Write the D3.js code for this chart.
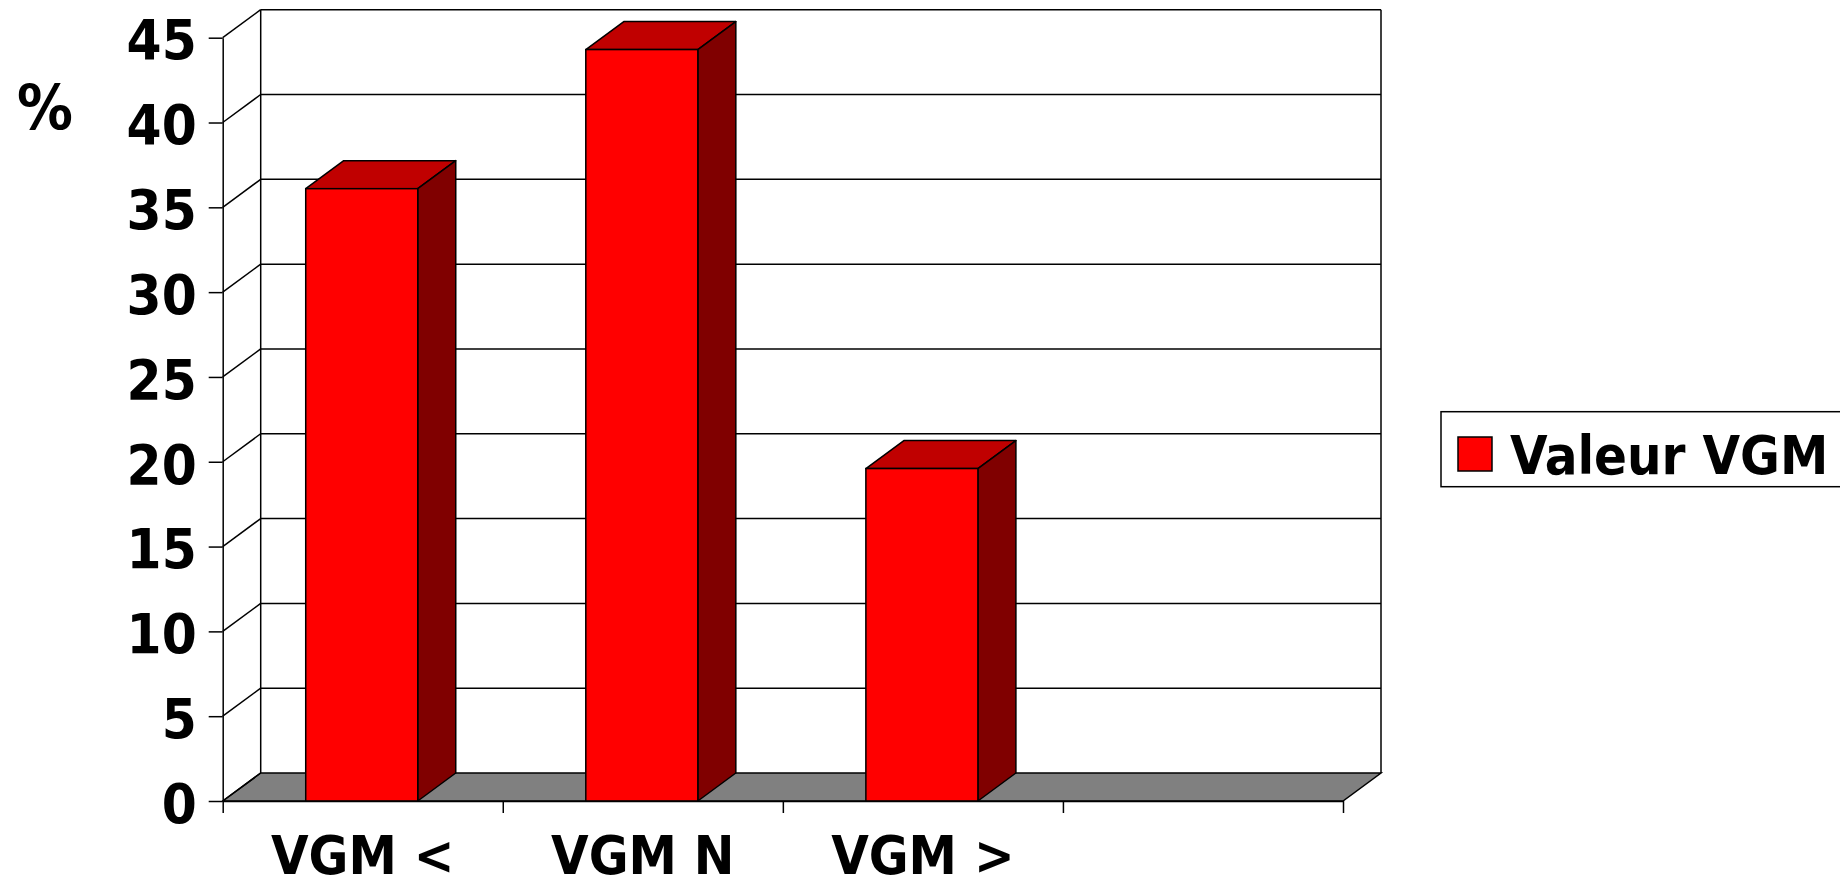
<!DOCTYPE html>
<html>
<head>
    <title>Valeur VGM</title>
    <script src="https://cdn.jsdelivr.net/npm/d3@7"></script>
    <style>
        body { margin: 0; background: #fff; }
        text { font-family: "DejaVu Sans Condensed", "DejaVu Sans", sans-serif; font-weight: bold; font-stretch: condensed; }
    </style>
</head>
<body>
<svg width="1840" height="888"></svg>

<script>
    const svg = d3.select("svg");

    // data
    const categories = ["VGM <", "VGM N", "VGM >", ""];
    const values = [36.1, 44.3, 19.6];
    const yTicks = [0, 5, 10, 15, 20, 25, 30, 35, 40, 45];
    const seriesName = "Valeur VGM";
    const unitLabel = "%";

    // depth of the 3d box
    const dx = 38, dy = -28;
    const fontSize = 54;

    const x = d3.scaleBand()
        .domain(categories)
        .range([222.7, 1343])
        .padding(0);

    const y = d3.scaleLinear()
        .domain([0, 45])
        .range([801, 37.7]);

    const x0 = x.range()[0], x1 = x.range()[1];
    const yTop = y(45), yBase = y(0);

    // floor
    svg.append("path")
        .attr("d", `M${x0},${yBase} L${x0 + dx},${yBase + dy} L${x1 + dx},${yBase + dy} L${x1},${yBase} Z`)
        .attr("fill", "#808080")
        .attr("stroke", "#000")
        .attr("stroke-width", 1.5);

    // back wall grid lines + side wall diagonals
    const grid = svg.append("g");
    grid.selectAll(".gback")
        .data(yTicks.filter(d => d > 0))
        .enter().append("line")
        .attr("x1", x0 + dx)
        .attr("x2", x1 + dx)
        .attr("y1", d => y(d) + dy)
        .attr("y2", d => y(d) + dy)
        .attr("stroke", "#000")
        .attr("stroke-width", 1.5);

    grid.selectAll(".gside")
        .data(yTicks)
        .enter().append("line")
        .attr("x1", x0)
        .attr("x2", x0 + dx)
        .attr("y1", d => y(d))
        .attr("y2", d => y(d) + dy)
        .attr("stroke", "#000")
        .attr("stroke-width", 1.5);

    // wall edges
    grid.append("line")
        .attr("x1", x0 + dx).attr("x2", x0 + dx)
        .attr("y1", yTop + dy).attr("y2", yBase + dy)
        .attr("stroke", "#000").attr("stroke-width", 1.5);
    grid.append("line")
        .attr("x1", x1 + dx).attr("x2", x1 + dx)
        .attr("y1", yTop + dy).attr("y2", yBase + dy)
        .attr("stroke", "#000").attr("stroke-width", 1.5);

    // bars
    const barW = x.bandwidth() * 0.4;
    const bars = svg.selectAll(".bar")
        .data(values)
        .enter().append("g")
        .attr("class", "bar");

    const bx = (d, i) => x(categories[i]) + (x.bandwidth() - barW) / 2 - 1;

    bars.append("path")
        .attr("d", (d, i) => {
            const l = bx(d, i), r = l + barW, t = y(d);
            return `M${l},${t} L${l + dx},${t + dy} L${r + dx},${t + dy} L${r},${t} Z`;
        })
        .attr("fill", "#c00000")
        .attr("stroke", "#000")
        .attr("stroke-width", 1.5)
        .attr("stroke-linejoin", "round");

    bars.append("path")
        .attr("d", (d, i) => {
            const r = bx(d, i) + barW, t = y(d);
            return `M${r},${t} L${r + dx},${t + dy} L${r + dx},${yBase + dy} L${r},${yBase} Z`;
        })
        .attr("fill", "#800000")
        .attr("stroke", "#000")
        .attr("stroke-width", 1.5)
        .attr("stroke-linejoin", "round");

    bars.append("rect")
        .attr("x", bx)
        .attr("y", d => y(d))
        .attr("width", barW)
        .attr("height", d => yBase - y(d))
        .attr("fill", "#ff0000")
        .attr("stroke", "#000")
        .attr("stroke-width", 1.5);

    // y axis
    const yAxis = svg.append("g")
        .attr("transform", `translate(${x0},0)`)
        .call(d3.axisLeft(y).tickValues(yTicks).tickSize(14).tickSizeOuter(0).tickPadding(12));
    yAxis.selectAll("path, line").attr("stroke", "#000").attr("stroke-width", 1.5);
    yAxis.selectAll("text")
        .attr("font-size", "56px")
        .attr("font-family", null)
        .attr("dy", "0.38em")
        .attr("fill", "#000");

    // x axis (ticks between categories)
    const xEdges = d3.scaleLinear().domain([0, categories.length]).range([x0, x1]);
    const xAxis = svg.append("g")
        .attr("transform", `translate(0,${yBase})`)
        .call(d3.axisBottom(xEdges).tickValues(d3.range(categories.length + 1)).tickSize(12).tickSizeOuter(0).tickFormat(""));
    xAxis.selectAll("path, line").attr("stroke", "#000").attr("stroke-width", 1.5);

    // category labels
    svg.selectAll(".xlabel")
        .data(categories)
        .enter().append("text")
        .attr("x", d => x(d) + x.bandwidth() / 2)
        .attr("y", 874)
        .attr("text-anchor", "middle")
        .attr("font-size", fontSize + "px")
        .text(d => d);

    // unit label
    svg.append("text")
        .attr("x", 45)
        .attr("y", 129)
        .attr("text-anchor", "middle")
        .attr("font-size", "62px")
        .text(unitLabel);

    // legend
    svg.append("rect")
        .attr("x", 1441)
        .attr("y", 411.7)
        .attr("width", 420)
        .attr("height", 75)
        .attr("fill", "#fff")
        .attr("stroke", "#000")
        .attr("stroke-width", 1.5);

    svg.append("rect")
        .attr("x", 1458)
        .attr("y", 437)
        .attr("width", 34)
        .attr("height", 34)
        .attr("fill", "#ff0000")
        .attr("stroke", "#000")
        .attr("stroke-width", 1.5);

    svg.append("text")
        .attr("x", 1510)
        .attr("y", 474)
        .attr("font-size", fontSize + "px")
        .text(seriesName);
</script>
</body>
</html>
